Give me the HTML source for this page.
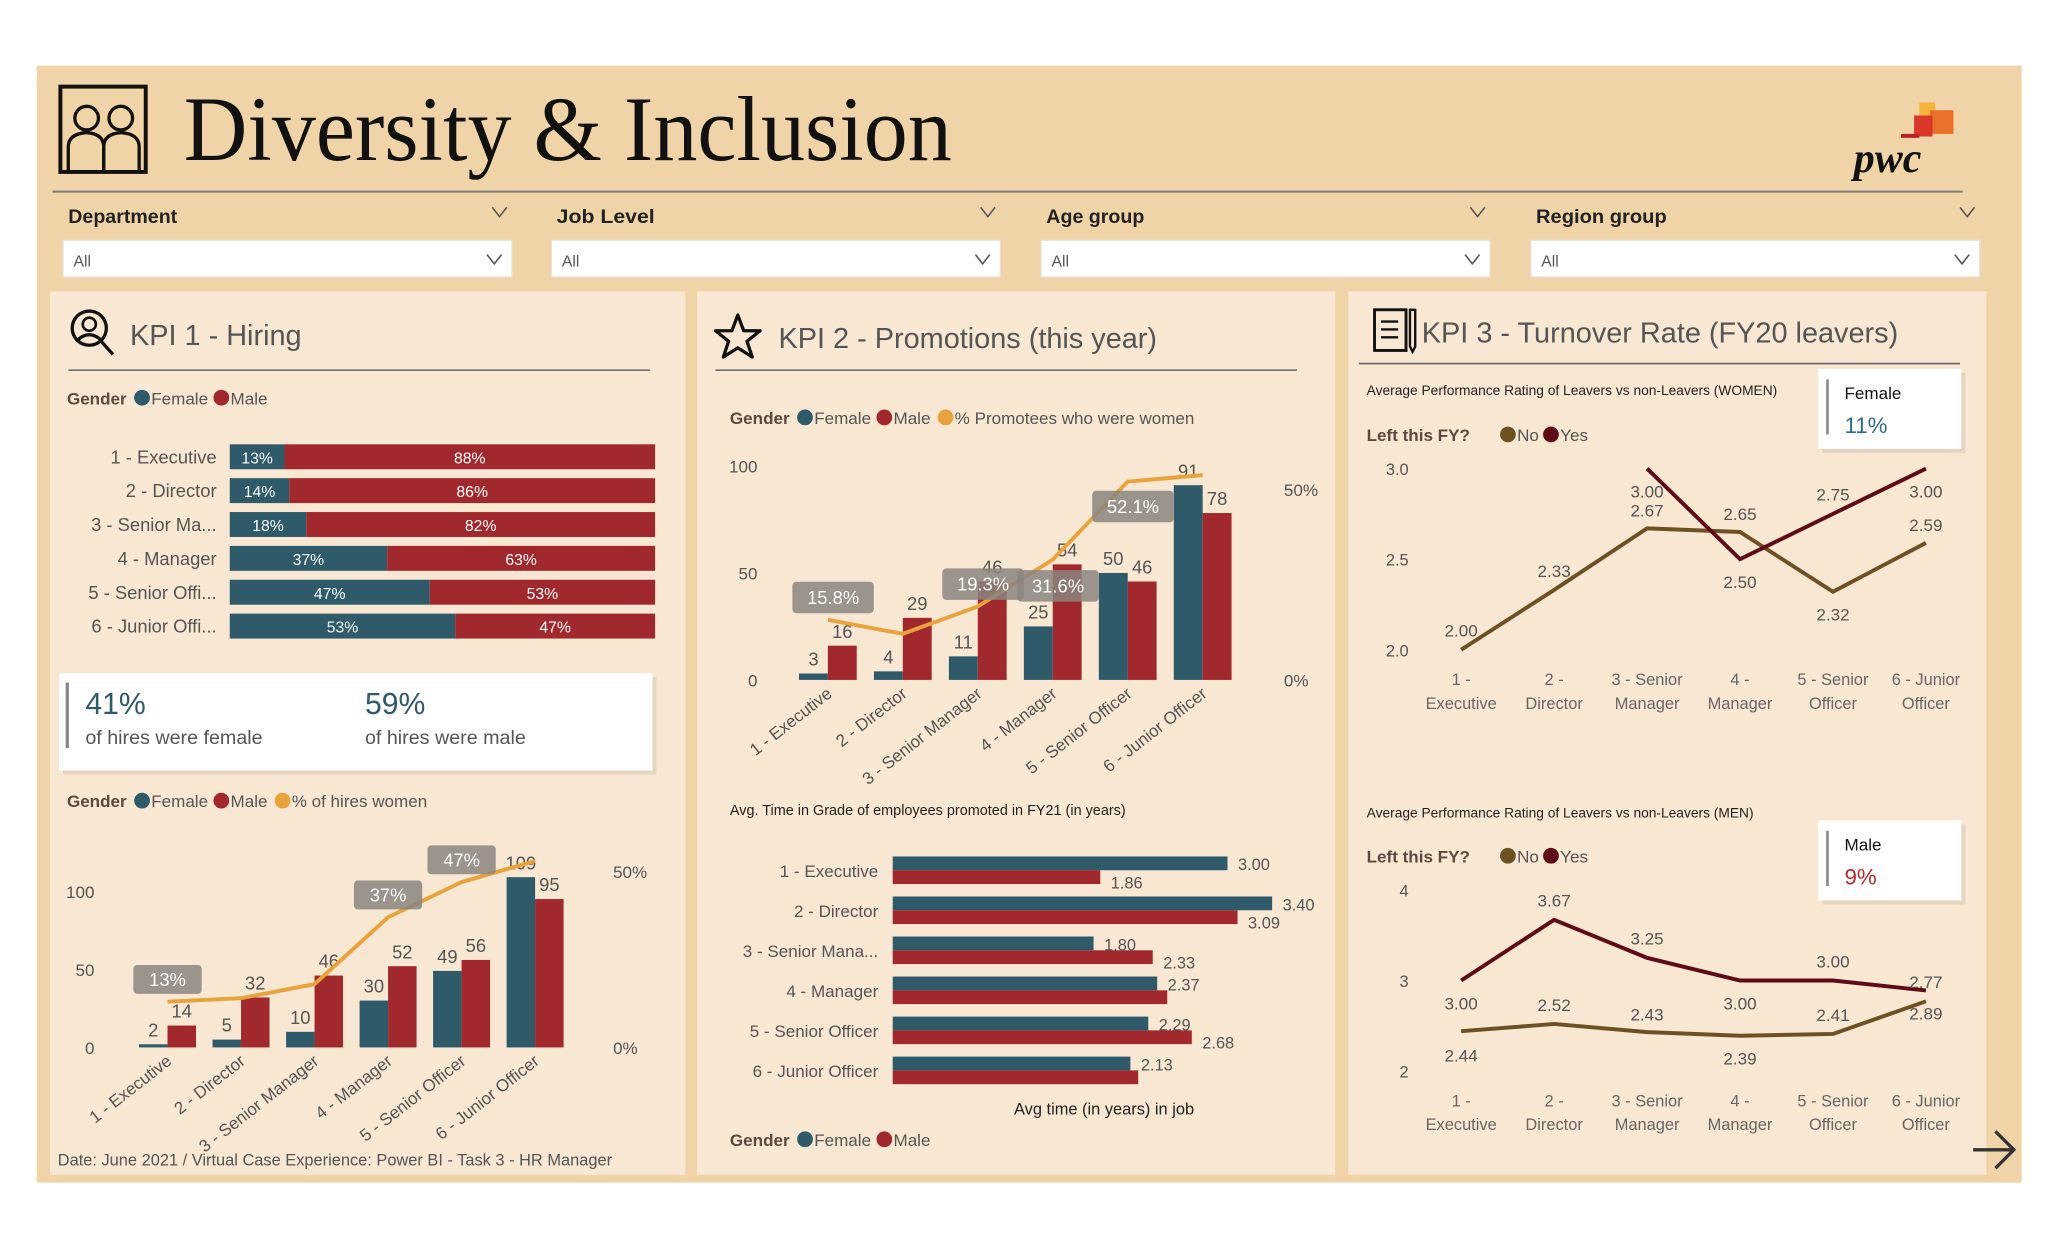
<!DOCTYPE html>
<html><head><meta charset="utf-8"><style>
html,body{margin:0;padding:0;background:#fff;}
svg{display:block;font-family:"Liberation Sans",sans-serif;}
</style></head><body>
<svg id="s" width="2048" height="1243" viewBox="0 0 1560 947" preserveAspectRatio="none" xmlns="http://www.w3.org/2000/svg">
<rect x="0" y="0" width="1560" height="947" fill="#ffffff"/>
<rect x="28" y="50" width="1512" height="851" fill="#F0D4A8"/>
<rect x="38" y="222" width="484" height="673" fill="#F8E7D2"/>
<rect x="531" y="222" width="486" height="673" fill="#F8E7D2"/>
<rect x="1027" y="222" width="486" height="673" fill="#F8E7D2"/>
<g fill="none" stroke="#111" stroke-width="3">
<rect x="46" y="66" width="65" height="65"/>
<circle cx="66" cy="90" r="9" stroke-width="2.5"/><circle cx="92" cy="90" r="9" stroke-width="2.5"/>
<path d="M52 131 V112 Q52 102 66 101 Q79 102 79 112 V131" stroke-width="2.5"/>
<path d="M79 131 V112 Q79 102 92 101 Q106 102 106 112 V131" stroke-width="2.5"/>
</g>
<text x="140" y="122" font-family="Liberation Serif, serif" font-size="70" fill="#111" textLength="585" lengthAdjust="spacingAndGlyphs">Diversity &amp; Inclusion</text>
<g>
<rect x="1462" y="78" width="12" height="10" fill="#F6B53A"/><rect x="1470" y="84" width="18" height="18" fill="#E8702A"/>
<rect x="1458" y="88" width="14" height="16" fill="#D9382A"/><rect x="1448" y="102" width="14" height="3" fill="#B81E24"/>
<text x="1412" y="131" font-family="Liberation Serif, serif" font-weight="bold" font-style="italic" font-size="32" fill="#111">pwc</text>
</g>
<line x1="40" y1="146" x2="1495" y2="146" stroke="#7a7a7a" stroke-width="1.5"/>
<g id="slicers"></g>
<g id="kpi1"></g><g id="kpi2"></g><g id="kpi3"></g>
<g fill="none" stroke="#333" stroke-width="2.5"><path d="M1503 876 H1533 M1520 862 L1534 876 L1520 890"/></g>
</svg>
<script>
const NS='http://www.w3.org/2000/svg';
const svg=document.getElementById('s');
function mk(parent,tag,attrs,name,inter){const el=document.createElementNS(NS,tag);for(const k in attrs)el.setAttribute(k,attrs[k]);


(parent||svg).appendChild(el);return el;}
function tx(parent,x,y,str,size,fill,name,extra){const a=Object.assign({x:x,y:y,'font-size':size,fill:fill},extra||{});const el=mk(parent,'text',a,name,false);el.textContent=str;return el;}

// ---- slicers
const slicerNames=['Department','Job Level','Age group','Region group'];
const slicerX=[48,420,793,1166];
const sg=document.getElementById('slicers');
slicerNames.forEach((n,i)=>{const x=slicerX[i];
 tx(sg,x+4,170,n,15,'#222','slicer-label',{'font-weight':'bold','textLength':n.length*8.3,'lengthAdjust':'spacingAndGlyphs'});
 mk(sg,'path',{d:`M${x+327} ${158} l5.5 7 l5.5 -7`,fill:'none',stroke:'#555','stroke-width':1.2},'slicer-header-chevron',true);
 mk(sg,'rect',{x:x,y:183,width:342,height:28,fill:'#fff',stroke:'#e6e0d8'},'slicer-dropdown',true);
 tx(sg,x+8,203,'All',12,'#555','slicer-value');
 mk(sg,'path',{d:`M${x+323} 194 l5.5 7 l5.5 -7`,fill:'none',stroke:'#555','stroke-width':1.2},'slicer-dropdown-chevron',true);
});

const TEAL='#2F5A69',RED='#A1282C',ORANGE='#E8A33D',GREY='#555';
function legend(g,x,y,label,items){let cx=x;const l=tx(g,cx,y+5,label,13,'#5a4a3f','legend-title',{'font-weight':'bold'});cx+=label.length*7.2+8;
 items.forEach(it=>{mk(g,'circle',{cx:cx+6,cy:y,r:6,fill:it[1]},'legend-marker',false);tx(g,cx+13,y+5,it[0],13,'#555','legend-entry');cx+=13+it[0].length*6.9+6;});}

// ---- KPI1
const k1=document.getElementById('kpi1');
const hireCats=['1 - Executive','2 - Director','3 - Senior Ma...','4 - Manager','5 - Senior Offi...','6 - Junior Offi...'];
const hireFemalePct=[13,14,18,37,47,53];
const hireMalePct=[88,86,82,63,53,47];
const hireCatsFull=['1 - Executive','2 - Director','3 - Senior Manager','4 - Manager','5 - Senior Officer','6 - Junior Officer'];
const hiresFemale=[2,5,10,30,49,109];
const hiresMale=[14,32,46,52,56,95];
const hiresWomenPct=[13,14,18,37,47,53];
const hiresPctShown=[true,false,false,true,true,false];

(function(){
 const g=k1;
 mk(g,'circle',{cx:68,cy:250,r:13,fill:'none',stroke:'#111','stroke-width':2.5},'hiring-icon',false);
 mk(g,'circle',{cx:68,cy:247,r:5,fill:'none',stroke:'#111','stroke-width':2},'hiring-icon-head',false);
 mk(g,'path',{d:'M58 260 Q68 250 78 260 M77 260 L86 270',fill:'none',stroke:'#111','stroke-width':2.5},'hiring-icon-body',false);
 tx(g,99,263,'KPI 1 - Hiring',22,'#555','kpi1-title');
 mk(g,'line',{x1:52,y1:282,x2:495,y2:282,stroke:'#666','stroke-width':1.2},'kpi1-divider',false);
 legend(g,51,303,'Gender',[['Female',TEAL],['Male',RED]]);
 const x0=175,W=324;
 hireCats.forEach((c,i)=>{const cy=348+i*25.8;const tot=hireFemalePct[i]+hireMalePct[i];const fw=W*hireFemalePct[i]/tot;
  tx(g,165,cy+5,c,14,'#555','hiring-share-category',{'text-anchor':'end'});
  mk(g,'rect',{x:x0,y:cy-9.5,width:fw,height:19,fill:TEAL},'hiring-share-female-bar',false);
  mk(g,'rect',{x:x0+fw,y:cy-9.5,width:W-fw,height:19,fill:RED},'hiring-share-male-bar',false);
  tx(g,x0+fw/2,cy+5,hireFemalePct[i]+'%',12,'#fff','hiring-share-female-label',{'text-anchor':'middle'});
  tx(g,x0+fw+(W-fw)/2,cy+5,hireMalePct[i]+'%',12,'#fff','hiring-share-male-label',{'text-anchor':'middle'});
 });
 mk(g,'rect',{x:48,y:516,width:452,height:74,fill:'#d9cbb8',opacity:0.6},'card-shadow',false);
 mk(g,'rect',{x:45,y:513,width:452,height:74,fill:'#fff'},'hiring-summary-card',false);
 mk(g,'rect',{x:50,y:520,width:2.5,height:50,fill:'#888'},'card-accent',false);
 tx(g,65,544,'41%',23,'#2F5A69','female-hire-share');
 tx(g,65,567,'of hires were female',15,'#555','female-hire-caption');
 tx(g,278,544,'59%',23,'#2F5A69','male-hire-share');
 tx(g,278,567,'of hires were male',15,'#555','male-hire-caption');
 legend(g,51,610,'Gender',[['Female',TEAL],['Male',RED],['% of hires women',ORANGE]]);
 const y0=798,pu=1.19,pp=2.68,cx0=127.6,step=56,bw=21.7;
 const Y=v=>y0-v*pu, YP=v=>y0-v*pp, X=i=>cx0+i*step;
 [0,50,100].forEach(v=>{tx(g,72,Y(v)+5,String(v),13,'#555','hires-y-tick',{'text-anchor':'end'});});
 [0,50].forEach(v=>{tx(g,467,YP(v)+5,v+'%',13,'#555','hires-y2-tick');});
 hireCatsFull.forEach((c,i)=>{const cx=X(i);
  mk(g,'rect',{x:cx-bw,y:Y(hiresFemale[i]),width:bw,height:hiresFemale[i]*pu,fill:TEAL},'hires-female-bar',false);
  mk(g,'rect',{x:cx,y:Y(hiresMale[i]),width:bw,height:hiresMale[i]*pu,fill:RED},'hires-male-bar',false);
  tx(g,cx-bw/2,Y(hiresFemale[i])-6,String(hiresFemale[i]),14,'#555','hires-female-value',{'text-anchor':'middle'});
  tx(g,cx+bw/2,Y(hiresMale[i])-6,String(hiresMale[i]),14,'#555','hires-male-value',{'text-anchor':'middle'});
  tx(g,0,0,c,13,'#555','hires-x-label',{'text-anchor':'end',transform:`translate(${cx+4},${y0+12}) rotate(-38)`});
 });
 mk(g,'polyline',{points:hiresWomenPct.map((v,i)=>X(i)+','+YP(v)).join(' '),fill:'none',stroke:ORANGE,'stroke-width':3},'hires-women-pct-line',false);
 hiresWomenPct.forEach((v,i)=>{if(!hiresPctShown[i])return;const cy=YP(v)-17;
  mk(g,'rect',{x:X(i)-26,y:cy-11,width:52,height:22,rx:3,fill:'#8a8580',opacity:0.85},'hires-pct-label-box',false);
  tx(g,X(i),cy+5,v+'%',14,'#fff','hires-pct-label',{'text-anchor':'middle'});});
 tx(g,44,888,'Date: June 2021 / Virtual Case Experience: Power BI - Task 3 - HR Manager',12.5,'#555','footer-note');
})();

// ---- KPI2
const promoCats=['1 - Executive','2 - Director','3 - Senior Manager','4 - Manager','5 - Senior Officer','6 - Junior Officer'];
const promoFemale=[3,4,11,25,50,91];
const promoMale=[16,29,46,54,46,78];
const promoWomenPct=[15.8,12.1,19.3,31.6,52.1,53.8];
const promoPctShown=[true,false,true,true,true,false];
const tigCats=['1 - Executive','2 - Director','3 - Senior Mana...','4 - Manager','5 - Senior Officer','6 - Junior Officer'];
const tigFemale=[3.00,3.40,1.80,2.37,2.29,2.13];
const tigMale=[1.86,3.09,2.33,2.46,2.68,2.20];
const tigMaleShown=[true,true,true,false,true,false];
(function(){
 const g=document.getElementById('kpi2');
 mk(g,'polygon',{points:'562,240 566.5,252 579,252 569,260 573,272 562,265 551,272 555,260 545,252 557.5,252',fill:'none',stroke:'#111','stroke-width':2.5,'stroke-linejoin':'round'},'promotions-icon',false);
 tx(g,593,265,'KPI 2 - Promotions (this year)',22,'#555','kpi2-title');
 mk(g,'line',{x1:545,y1:282,x2:988,y2:282,stroke:'#666','stroke-width':1.2},'kpi2-divider',false);
 legend(g,556,318,'Gender',[['Female',TEAL],['Male',RED],['% Promotees who were women',ORANGE]]);
 const y0=518,pu=1.63,pp=2.9,cx0=630.6,step=57.1,bw=22;
 const Y=v=>y0-v*pu,YP=v=>y0-v*pp,X=i=>cx0+i*step;
 [0,50,100].forEach(v=>tx(g,577,Y(v)+5,String(v),13,'#555','promo-y-tick',{'text-anchor':'end'}));
 [0,50].forEach(v=>tx(g,978,YP(v)+5,v+'%',13,'#555','promo-y2-tick'));
 promoCats.forEach((c,i)=>{const cx=X(i);
  mk(g,'rect',{x:cx-bw,y:Y(promoFemale[i]),width:bw,height:promoFemale[i]*pu,fill:TEAL},'promo-female-bar',false);
  mk(g,'rect',{x:cx,y:Y(promoMale[i]),width:bw,height:promoMale[i]*pu,fill:RED},'promo-male-bar',false);
  tx(g,cx-bw/2,Y(promoFemale[i])-6,String(promoFemale[i]),14,'#555','promo-female-value',{'text-anchor':'middle'});
  tx(g,cx+bw/2,Y(promoMale[i])-6,String(promoMale[i]),14,'#555','promo-male-value',{'text-anchor':'middle'});
  tx(g,0,0,c,13,'#555','promo-x-label',{'text-anchor':'end',transform:`translate(${cx+4},${y0+12}) rotate(-38)`});
 });
 mk(g,'polyline',{points:promoWomenPct.map((v,i)=>X(i)+','+YP(v)).join(' '),fill:'none',stroke:ORANGE,'stroke-width':3},'promo-women-pct-line',false);
 const boxDy=[-17,0,-17,20,19,0];
 promoWomenPct.forEach((v,i)=>{if(!promoPctShown[i])return;const cy=YP(v)+boxDy[i];
  mk(g,'rect',{x:X(i)+4-31,y:cy-12,width:62,height:24,rx:3,fill:'#8a8580',opacity:0.85},'promo-pct-label-box',false);
  tx(g,X(i)+4,cy+5,v.toFixed(1)+'%',14,'#fff','promo-pct-label',{'text-anchor':'middle'});});
 tx(g,556,621,'Avg. Time in Grade of employees promoted in FY21 (in years)',11,'#222','time-in-grade-title');
 const hx0=680,hu=85,c0=663,hs=30.5,bh=10.5;const HX=v=>hx0+v*hu;
 tigCats.forEach((c,i)=>{const cy=c0+i*hs;
  tx(g,669,cy+5,c,13,'#555','time-in-grade-category',{'text-anchor':'end'});
  mk(g,'rect',{x:hx0,y:cy-bh,width:tigFemale[i]*hu,height:bh,fill:TEAL},'time-in-grade-female-bar',false);
  mk(g,'rect',{x:hx0,y:cy,width:tigMale[i]*hu,height:bh,fill:RED},'time-in-grade-male-bar',false);
  tx(g,HX(tigFemale[i])+8,cy,tigFemale[i].toFixed(2),12.5,'#555','time-in-grade-female-value');
  if(tigMaleShown[i])tx(g,HX(tigMale[i])+8,cy+14,tigMale[i].toFixed(2),12.5,'#555','time-in-grade-male-value');
 });
 tx(g,841,849,'Avg time (in years) in job',12.5,'#222','time-in-grade-x-title',{'text-anchor':'middle'});
 legend(g,556,868,'Gender',[['Female',TEAL],['Male',RED]]);
})();

// ---- KPI3
const levelLines=[['1 -','Executive'],['2 -','Director'],['3 - Senior','Manager'],['4 -','Manager'],['5 - Senior','Officer'],['6 - Junior','Officer']];
const womenNo=[2.00,2.33,2.67,2.65,2.32,2.59];
const womenYes=[null,null,3.00,2.50,2.75,3.00];
const menNo=[2.44,2.52,2.43,2.39,2.41,2.77];
const menYes=[3.00,3.67,3.25,3.00,3.00,2.89];
const womenTicks=['2.0','2.5','3.0'];
const menTicks=['2','3','4'];
(function(){
 const g=document.getElementById('kpi3');
 const BROWN='#6F5022',DARK='#5E0B17';
 mk(g,'rect',{x:1047,y:236,width:24,height:31,fill:'none',stroke:'#111','stroke-width':2.2},'turnover-icon',false);
 mk(g,'path',{d:'M1052 245h13M1052 251h13M1052 257h13M1074 236v28l2 4l2-4v-28z',fill:'none',stroke:'#111','stroke-width':1.8},'turnover-icon-lines',false);
 tx(g,1083,261,'KPI 3 - Turnover Rate (FY20 leavers)',22,'#555','kpi3-title');
 mk(g,'line',{x1:1035,y1:277,x2:1493,y2:277,stroke:'#666','stroke-width':1.2},'kpi3-divider',false);
 function chart(titleY,legendY,cardY,title,cardLabel,cardVal,cardColor,ticks,tickVals,yTopV,yTop,yBotV,yBot,no,yes,noDy,yesDy){
  tx(g,1041,titleY+4,title,10.5,'#222','turnover-chart-title');
  legend(g,1041,legendY,'Left this FY?',[['No',BROWN],['Yes',DARK]]);
  mk(g,'rect',{x:1388,y:cardY-15,width:109,height:61,fill:'#d8c8b4',opacity:0.6},'card-shadow',false);
  mk(g,'rect',{x:1385,y:cardY-18,width:109,height:61,fill:'#fff'},'turnover-card',false);
  mk(g,'rect',{x:1391,y:cardY-10,width:2,height:42,fill:'#888'},'card-accent',false);
  tx(g,1405,cardY+5,cardLabel,13,'#111','turnover-card-label');
  tx(g,1405,cardY+31,cardVal,17,cardColor,'turnover-card-value');
  const pu=(yBot-yTop)/(yTopV-yBotV);const Y=v=>yBot-(v-yBotV)*pu;const X=i=>1113+i*70.8;
  ticks.forEach((t,i)=>tx(g,1073,Y(tickVals[i])+5,t,12.5,'#555','turnover-y-tick',{'text-anchor':'end'}));
  levelLines.forEach((l,i)=>{tx(g,X(i),yBot+27,l[0],12.5,'#666','turnover-x-label',{'text-anchor':'middle'});tx(g,X(i),yBot+45,l[1],12.5,'#666','turnover-x-label',{'text-anchor':'middle'});});
  const pts=a=>a.map((v,i)=>v==null?null:X(i)+','+Y(v)).filter(p=>p).join(' ');
  mk(g,'polyline',{points:pts(no),fill:'none',stroke:BROWN,'stroke-width':3},'turnover-no-line',false);
  mk(g,'polyline',{points:pts(yes),fill:'none',stroke:DARK,'stroke-width':3},'turnover-yes-line',false);
  no.forEach((v,i)=>tx(g,X(i),Y(v)+noDy[i]+5,v.toFixed(2),13,'#555','turnover-no-value',{'text-anchor':'middle'}));
  yes.forEach((v,i)=>{if(v==null)return;tx(g,X(i),Y(v)+yesDy[i]+5,v.toFixed(2),13,'#555','turnover-yes-value',{'text-anchor':'middle'});});
 }
 chart(297,331,299,'Average Performance Rating of Leavers vs non-Leavers (WOMEN)','Female','11%','#2F6A86',womenTicks,[2,2.5,3],3,357,2,495,womenNo,womenYes,[-15,-15,-14,-14,17,-14],[0,0,17,17,-15,17]);
 chart(619,652,643,'Average Performance Rating of Leavers vs non-Leavers (MEN)','Male','9%','#B3282C',menTicks,[2,3,4],4,678,2,816,menNo,menYes,[18,-15,-14,17,-15,-15],[17,-15,-15,17,-15,17]);
})();
</script>
</body></html>
